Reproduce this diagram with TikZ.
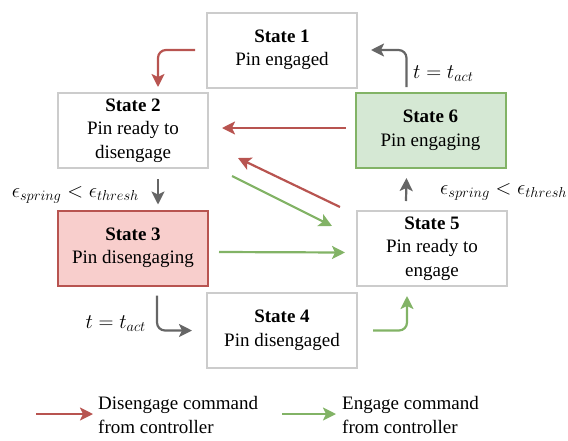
\documentclass[tikz,border=0pt]{standalone}
\usepackage{fontspec}
\setmainfont{Liberation Serif}
\usetikzlibrary{arrows.meta}
\definecolor{redln}{HTML}{B85450}
\definecolor{redfill}{HTML}{F8CECC}
\definecolor{grnln}{HTML}{82B366}
\definecolor{grnfill}{HTML}{D5E8D4}
\definecolor{boxgray}{HTML}{CCCCCC}
\definecolor{arrgray}{HTML}{666666}
\tikzset{
  statebox/.style={draw=boxgray, line width=2pt, minimum width=150pt, minimum height=75pt, align=center, inner sep=2pt, font=\rmfamily\fontsize{19}{23.5}\selectfont},
  redbox/.style={statebox, draw=redln, fill=redfill},
  grnbox/.style={statebox, draw=grnln, fill=grnfill},
  tip/.style={-{Stealth[length=13pt,width=13pt,inset=3pt]}},
  redarrow/.style={tip, draw=redln, line width=2.2pt},
  grnarrow/.style={tip, draw=grnln, line width=2.2pt},
  grayarrow/.style={tip, draw=arrgray, line width=2.2pt},
  lbl/.style={font=\fontsize{20}{24}\selectfont, inner sep=0pt},
  legtxt/.style={font=\rmfamily\fontsize{19}{24}\selectfont, align=left, anchor=west, inner sep=0pt}
}
\begin{document}
\begin{tikzpicture}[x=1pt,y=-1pt]
\useasboundingbox (0,0) rectangle (568,440);
\node[statebox] (s1) at (282,50) {\textbf{State 1}\\Pin engaged};
\node[statebox] (s2) at (133,130.5) {\textbf{State 2}\\Pin ready to\\disengage};
\node[redbox] (s3) at (133,248) {\textbf{State 3}\\Pin disengaging};
\node[statebox] (s4) at (282,330.5) {\textbf{State 4}\\Pin disengaged};
\node[statebox] (s5) at (432,248.5) {\textbf{State 5}\\Pin ready to\\engage};
\node[grnbox] (s6) at (430.5,130.5) {\textbf{State 6}\\Pin engaging};

% State 1 -> State 2
\draw[redarrow, rounded corners=8pt] ([xshift=-11pt]s1.west) -| ([xshift=25pt,yshift=5pt]s2.north);
% State 2 -> State 3
\draw[grayarrow] ([xshift=25pt,yshift=-10pt]s2.south) -- ([xshift=25pt,yshift=5pt]s3.north);
\node[lbl, anchor=east] (l1) at (139,195) {$\epsilon_{spring} < \epsilon_{thresh}$};
% State 3 -> State 4
\draw[grayarrow, rounded corners=8pt] ([xshift=24pt,yshift=-9pt]s3.south) |- ([xshift=-14pt]s4.west);
\node[lbl, anchor=east] (l2) at (146,324) {$t = t_{act}$};
% State 4 -> State 5
\draw[grnarrow, rounded corners=8pt] ([xshift=15pt]s4.east) -| ([xshift=-25pt,yshift=-9pt]s5.south);
% State 5 -> State 6
\draw[grayarrow] ([xshift=-26pt,yshift=9pt]s5.north) -- ([xshift=-24pt,yshift=-9pt]s6.south);
\node[lbl, anchor=west] (l3) at (440,192) {$\epsilon_{spring} < \epsilon_{thresh}$};
% State 6 -> State 1
\draw[grayarrow, rounded corners=8pt] ([xshift=-24pt,yshift=5pt]s6.north) |- ([xshift=13pt]s1.east);
\node[lbl, anchor=west] (l4) at (413,74) {$t = t_{act}$};
% State 6 -> State 2
\draw[redarrow] ([xshift=-9pt,yshift=2.5pt]s6.west) -- ([xshift=13pt,yshift=2.5pt]s2.east);
% State 5 -> State 2 (diagonal)
\coordinate (d1) at (340,207);
\coordinate (d2) at (238,158);
\draw[redarrow] (d1) -- (d2);
% State 2 -> State 5 (diagonal)
\coordinate (g1) at (232,176);
\coordinate (g2) at (332,226);
\draw[grnarrow] (g1) -- (g2);
% State 3 -> State 5
\draw[grnarrow] ([xshift=10pt,yshift=-4pt]s3.east) -- ([xshift=-11pt,yshift=-4pt]s5.west);

% Legend
\coordinate (r1) at (36,414);
\coordinate (r2) at (93,414);
\draw[redarrow] (r1) -- (r2);
\node[legtxt] (t1) at (98,415) {Disengage command\\from controller};
\coordinate (e1) at (282,414);
\coordinate (e2) at (336,414);
\draw[grnarrow] (e1) -- (e2);
\node[legtxt] (t2) at (342,415) {Engage command\\from controller};
\end{tikzpicture}
\end{document}
